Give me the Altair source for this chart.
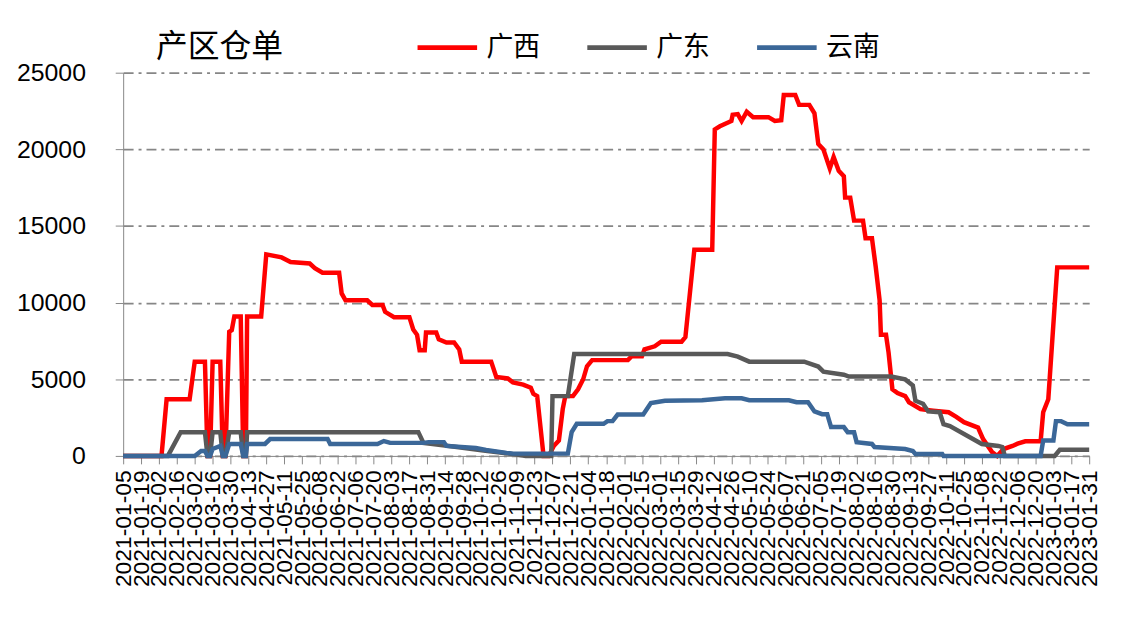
import altair as alt
import pandas as pd

regions = ["广西", "广东", "云南"]
colors = ["#FF0000", "#595959", "#3B6798"]

gx_dates = ["2021-01-05","2021-02-04","2021-02-08","2021-02-26","2021-03-02","2021-03-10","2021-03-12","2021-03-14","2021-03-16","2021-03-22","2021-03-24","2021-03-26","2021-03-29","2021-03-31","2021-04-02","2021-04-07","2021-04-09","2021-04-11","2021-04-12","2021-04-23","2021-04-27","2021-05-09","2021-05-16","2021-05-31","2021-06-04","2021-06-10","2021-06-23","2021-06-25","2021-06-28","2021-07-15","2021-07-19","2021-07-27","2021-07-29","2021-08-05","2021-08-17","2021-08-20","2021-08-23","2021-08-25","2021-08-29","2021-08-30","2021-09-07","2021-09-09","2021-09-15","2021-09-21","2021-09-25","2021-09-27","2021-10-20","2021-10-24","2021-11-02","2021-11-06","2021-11-14","2021-11-20","2021-11-22","2021-11-25","2021-11-30","2021-12-04","2021-12-08","2021-12-12","2021-12-15","2021-12-17","2021-12-23","2021-12-27","2021-12-31","2022-01-03","2022-01-07","2022-02-04","2022-02-07","2022-02-15","2022-02-17","2022-02-25","2022-03-02","2022-03-18","2022-03-21","2022-03-28","2022-04-11","2022-04-13","2022-04-17","2022-04-26","2022-04-27","2022-05-01","2022-05-04","2022-05-08","2022-05-13","2022-05-25","2022-05-30","2022-06-04","2022-06-06","2022-06-15","2022-06-18","2022-06-26","2022-06-30","2022-07-03","2022-07-07","2022-07-12","2022-07-15","2022-07-19","2022-07-23","2022-07-24","2022-07-28","2022-07-31","2022-08-07","2022-08-09","2022-08-14","2022-08-17","2022-08-20","2022-08-21","2022-08-25","2022-08-27","2022-08-30","2022-09-03","2022-09-09","2022-09-12","2022-09-21","2022-10-01","2022-10-13","2022-10-19","2022-10-25","2022-11-05","2022-11-09","2022-11-16","2022-11-20","2022-11-25","2022-12-02","2022-12-06","2022-12-12","2022-12-24","2022-12-26","2022-12-30","2023-01-06","2023-01-31"]
gx_values = [0,0,3700,3700,6150,6150,0,0,6150,6150,0,0,8100,8200,9100,9100,0,0,9100,9100,13150,12950,12650,12550,12250,11950,11950,10600,10150,10150,9850,9850,9400,9050,9050,8250,7900,6900,6900,8050,8050,7600,7400,7400,6950,6150,6150,5150,5050,4800,4650,4450,4050,3900,0,0,650,1000,3050,3900,3900,4350,5000,5850,6250,6250,6500,6500,6950,7150,7450,7450,7750,13450,13450,21300,21500,21850,22250,22300,21850,22450,22100,22100,21850,21900,23550,23550,22900,22900,22350,20350,20000,18750,19500,18600,18250,16850,16850,15350,15350,14200,14200,12300,10150,7900,7900,6750,4350,4100,3900,3500,3050,2950,2850,2550,2200,1850,1100,250,0,450,650,800,950,950,2850,3700,12300,12300]

gd_dates = ["2021-01-05","2021-02-09","2021-02-19","2021-03-10","2021-03-12","2021-03-14","2021-03-16","2021-03-22","2021-03-24","2021-03-26","2021-03-29","2021-04-07","2021-04-09","2021-04-11","2021-04-12","2021-08-24","2021-08-28","2021-09-17","2021-10-14","2021-11-08","2021-11-16","2021-12-06","2021-12-07","2021-12-19","2021-12-24","2022-04-23","2022-05-01","2022-05-10","2022-06-22","2022-07-03","2022-07-07","2022-07-23","2022-07-27","2022-08-29","2022-09-09","2022-09-15","2022-09-17","2022-09-23","2022-09-27","2022-10-06","2022-10-09","2022-10-14","2022-11-08","2022-11-21","2022-11-24","2022-11-26","2023-01-04","2023-01-08","2023-01-31"]
gd_values = [0,0,1550,1550,0,0,1550,1550,0,0,1550,1550,0,0,1550,1550,850,650,350,100,0,0,3900,3900,6650,6650,6480,6150,6150,5830,5500,5300,5180,5180,4990,4600,3600,3400,2900,2850,2070,1950,780,650,580,0,0,400,400]

yn_dates = ["2021-01-05","2021-03-02","2021-03-07","2021-03-10","2021-03-12","2021-03-14","2021-03-16","2021-03-22","2021-03-24","2021-03-26","2021-03-29","2021-04-07","2021-04-09","2021-04-11","2021-04-12","2021-04-26","2021-04-30","2021-06-14","2021-06-16","2021-07-23","2021-07-28","2021-08-02","2021-08-28","2021-09-01","2021-09-13","2021-09-15","2021-10-08","2021-10-16","2021-11-01","2021-11-06","2021-12-19","2021-12-22","2021-12-26","2022-01-16","2022-01-19","2022-01-23","2022-01-27","2022-02-16","2022-02-22","2022-03-05","2022-04-03","2022-04-21","2022-05-04","2022-05-10","2022-06-10","2022-06-16","2022-06-25","2022-06-30","2022-07-06","2022-07-10","2022-07-13","2022-07-23","2022-07-26","2022-07-31","2022-08-02","2022-08-14","2022-08-16","2022-09-09","2022-09-15","2022-09-17","2022-10-08","2022-10-09","2022-12-24","2022-12-26","2023-01-03","2023-01-05","2023-01-09","2023-01-14","2023-01-31"]
yn_values = [0,0,320,320,0,0,450,650,0,0,780,780,0,0,780,780,1100,1100,780,780,970,850,850,900,900,650,520,390,200,150,150,1550,2100,2100,2270,2270,2700,2700,3450,3600,3630,3760,3760,3630,3630,3500,3500,2900,2720,2720,1880,1880,1550,1550,900,780,580,450,320,130,130,0,0,1000,1000,2270,2270,2070,2070]

tick_dates = [
    "2021-01-05","2021-01-19","2021-02-02","2021-02-16","2021-03-02","2021-03-16","2021-03-30",
    "2021-04-13","2021-04-27","2021-05-11","2021-05-25","2021-06-08","2021-06-22","2021-07-06",
    "2021-07-20","2021-08-03","2021-08-17","2021-08-31","2021-09-14","2021-09-28","2021-10-12",
    "2021-10-26","2021-11-09","2021-11-23","2021-12-07","2021-12-21",
    "2022-01-04","2022-01-18","2022-02-01","2022-02-15","2022-03-01","2022-03-15","2022-03-29",
    "2022-04-12","2022-04-26","2022-05-10","2022-05-24","2022-06-07","2022-06-21","2022-07-05",
    "2022-07-19","2022-08-02","2022-08-16","2022-08-30","2022-09-13","2022-09-27","2022-10-11",
    "2022-10-25","2022-11-08","2022-11-22","2022-12-06","2022-12-20",
    "2023-01-03","2023-01-17","2023-01-31",
]
y_ticks = [0, 5000, 10000, 15000, 20000, 25000]


def to_ms(s):
    return int(pd.Timestamp(s, tz="UTC").value // 10**6)


rows = []
for name, ds, vs in [("广西", gx_dates, gx_values), ("广东", gd_dates, gd_values), ("云南", yn_dates, yn_values)]:
    for d, v in zip(ds, vs):
        rows.append({"region": name, "date": d, "value": v})
df = pd.DataFrame(rows)

x_enc = alt.X(
    "date:T",
    scale=alt.Scale(type="utc", domain=[to_ms(tick_dates[0]), to_ms(tick_dates[-1])], nice=False),
    axis=alt.Axis(
        values=[to_ms(t) for t in tick_dates],
        labelExpr="utcFormat(datum.value, '%Y-%m-%d')",
        labelAngle=-90, labelFontSize=23, labelFont="Liberation Sans", labelColor="#000000",
        labelOverlap=False, labelPadding=6, tickSize=8, tickColor="#888888",
        domainColor="#888888", grid=False, title=None, labelFlush=False,
    ),
)
y_enc = alt.Y(
    "value:Q",
    scale=alt.Scale(domain=[0, 25000], nice=False),
    axis=alt.Axis(
        values=y_ticks, format="d", labelFontSize=25, labelFont="Liberation Sans",
        labelColor="#000000", labelPadding=30, tickSize=8, tickColor="#888888",
        domainColor="#888888", gridDash=[10, 5, 3, 5], gridColor="#868686", gridWidth=1.8,
        title=None,
    ),
)
c_enc = alt.Color(
    "region:N",
    scale=alt.Scale(domain=regions, range=colors),
    legend=alt.Legend(
        orient="none", legendX=294, legendY=-58, direction="horizontal", title=None,
        symbolType="stroke", symbolSize=3600, symbolStrokeWidth=5,
        labelFontSize=27, labelFont="Noto Sans CJK SC", labelColor="#000000",
        labelOffset=7, columnPadding=37, padding=0,
    ),
)

layers = [
    alt.Chart(df).transform_filter(alt.datum.region == r).mark_line(strokeWidth=4.5).encode(
        x=x_enc, y=y_enc, color=c_enc
    )
    for r in regions
]

chart = alt.layer(*layers).properties(
    width=973,
    height=386,
    padding={"left": 116, "top": 63, "right": 25, "bottom": 148},
    autosize=alt.AutoSizeParams(type="none"),
    title=alt.TitleParams(
        "产区仓单", anchor="start", frame="group", dx=33, dy=59, offset=10, fontSize=32,
        font="Noto Sans CJK SC", fontWeight="normal", color="#000000",
    ),
    background="white",
).configure_view(stroke="transparent")

chart.save("out.html", embed_options={"renderer": "svg", "actions": False})
